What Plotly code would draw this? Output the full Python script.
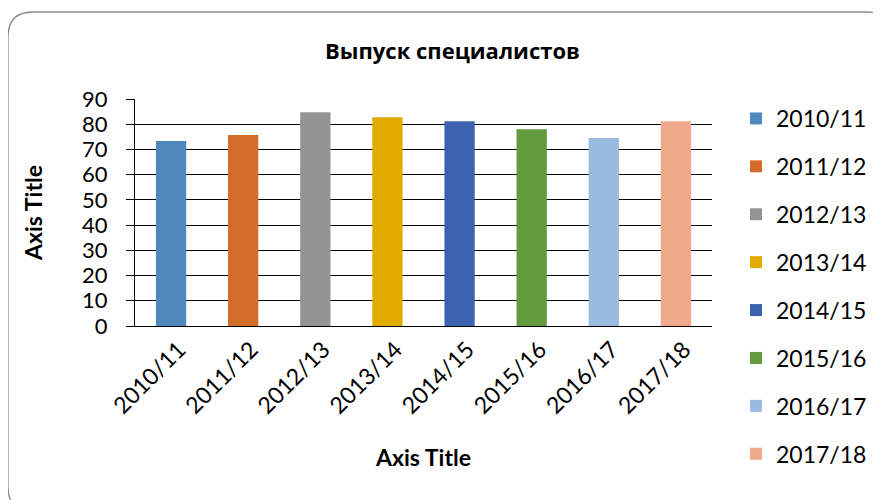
import plotly.graph_objects as go

categories = ["2010/11", "2011/12", "2012/13", "2013/14", "2014/15", "2015/16", "2016/17", "2017/18"]
values = [73.3, 75.7, 84.7, 82.8, 81.2, 78.0, 74.5, 81.2]
colors = ["#4F88BD", "#D46D2A", "#949494", "#E3AA00", "#3C64AE", "#629A3E", "#9BBAE0", "#F0A88A"]
title_text = "Выпуск специалистов"
x_title = "Axis Title"
y_title = "Axis Title"

FONT = "Lato, Calibri, Carlito, sans-serif"
TITLE_FONT = "Open Sans, Noto Sans, sans-serif"

fig = go.Figure()
for cat, val, col in zip(categories, values, colors):
    fig.add_trace(go.Bar(x=[cat], y=[val], name=cat, marker=dict(color=col, line=dict(width=0)),
                         legendgroup=cat, hoverinfo="x+y"))

# page body has an 8px margin: the figure starts at screen (8, 8)
OFF = 8
W, H = 881 - OFF, 500 - OFF
PL, PR, PT, PB = 135, 712, 99, 326          # plot area in screen pixels
L, R, T, B = PL - OFF, 881 - PR, PT - OFF, 500 - PB
pw, ph = PR - PL, PB - PT

def px_x(x):
    return (x - PL) / pw

def px_y(y):
    return (PB - y) / ph

# rounded chart border
x0, x1, y0, y1 = px_x(8), px_x(892), px_y(12), px_y(512)
rx, ry = 25 / pw, 25 / ph
path = (f"M {x0+rx},{y0} L {x1-rx},{y0} Q {x1},{y0} {x1},{y0-ry} "
        f"L {x1},{y1+ry} Q {x1},{y1} {x1-rx},{y1} L {x0+rx},{y1} Q {x0},{y1} {x0},{y1+ry} "
        f"L {x0},{y0-ry} Q {x0},{y0} {x0+rx},{y0} Z")

fig.update_layout(
    width=W, height=H,
    margin=dict(l=L, r=R, t=T, b=B, autoexpand=False),
    paper_bgcolor="white", plot_bgcolor="white",
    barmode="relative", bargap=0.58,
    font=dict(family=FONT, color="black", size=22),
    showlegend=True,
    legend=dict(x=px_x(736), xanchor="left", y=px_y(97), yanchor="top",
                font=dict(size=23, family=FONT), tracegroupgap=15,
                itemwidth=30, bgcolor="rgba(0,0,0,0)", maxheight=480),
    shapes=[dict(type="path", xref="paper", yref="paper", path=path,
                 line=dict(color="#8C8C8C", width=1.3), layer="below")],
    annotations=[dict(text="<b>" + title_text + "</b>", xref="paper", yref="paper",
                      x=px_x(452), y=px_y(50), xanchor="center", yanchor="middle",
                      showarrow=False, font=dict(size=22, family=TITLE_FONT, color="black"))],
)

fig.update_xaxes(
    type="category", tickangle=-45, showgrid=False, showline=True, automargin=False,
    linecolor="black", linewidth=1, ticks="", tickfont=dict(size=23, family=FONT),
    ticklabelshift=8,
    title=dict(text="<b>" + x_title + "</b>", font=dict(size=23, family=FONT), standoff=32),
)
fig.update_yaxes(
    range=[0, 90], dtick=10, showgrid=True, gridcolor="black", gridwidth=1, automargin=False,
    showline=True, linecolor="black", linewidth=1, ticks="outside", ticklen=8,
    tickcolor="black", tickfont=dict(size=22, family=FONT), zeroline=False, ticklabelstandoff=14,
    title=dict(text="<b>" + y_title + "</b>", font=dict(size=23, family=FONT), standoff=33),
)

fig.write_html("out.html")
